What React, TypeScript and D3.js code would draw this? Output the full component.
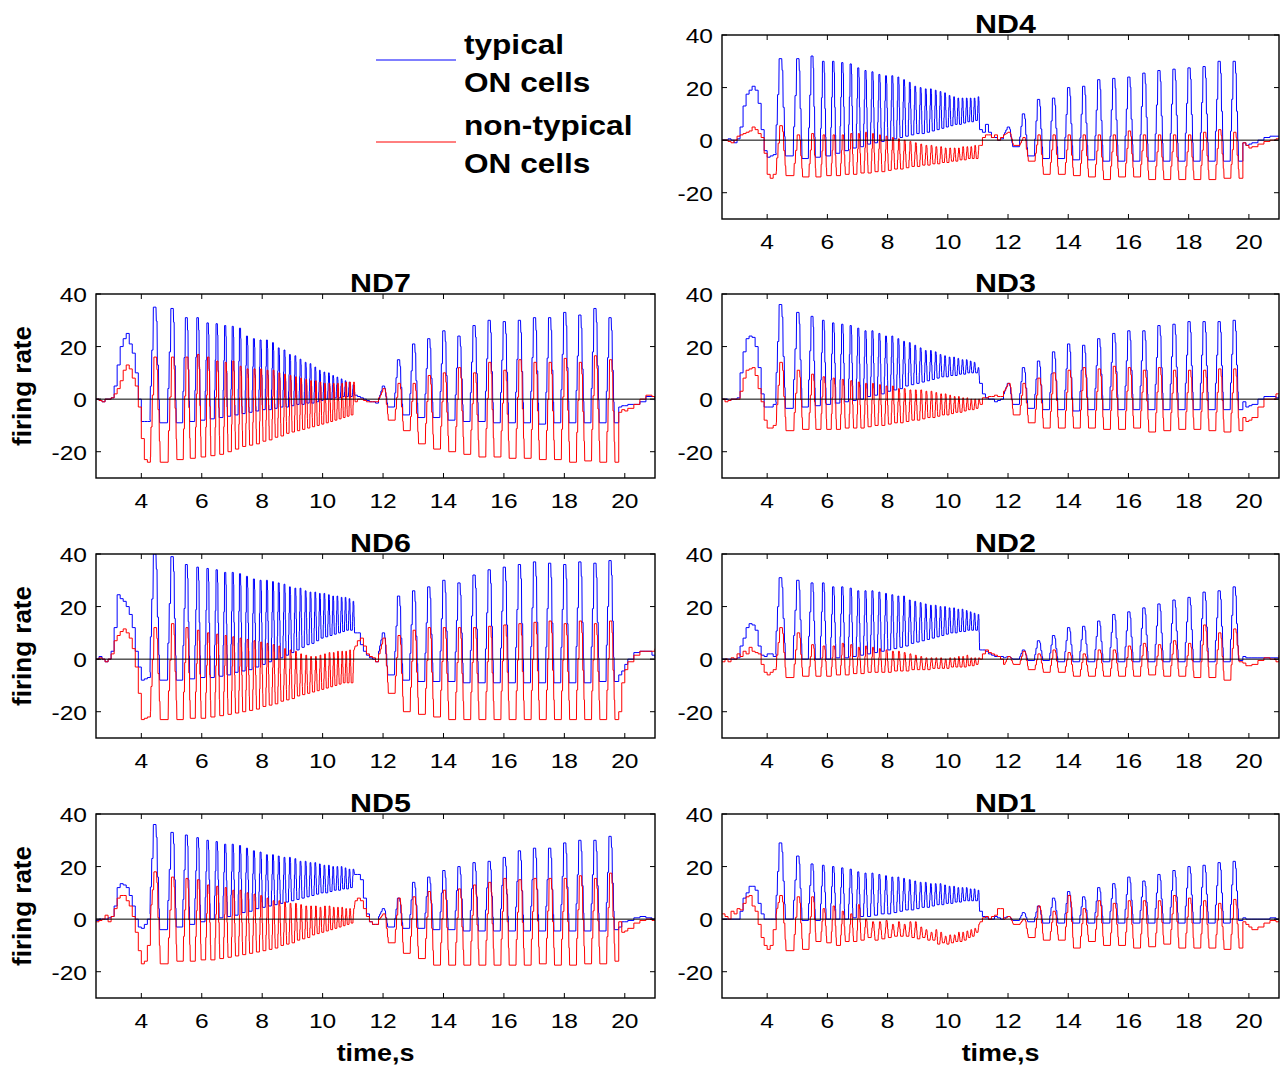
import React from "react";
import * as d3 from "d3";

// ---------- shared time bases (s) ----------
const PRE_T = [2.5, 2.6, 2.7, 2.8, 2.9, 3.0, 3.1, 3.2, 3.3, 3.4, 3.5, 3.6, 3.7, 3.8, 3.9, 4.0, 4.1, 4.2, 4.3];
const CHIRP_T = [4.45, 5.03, 5.5, 5.87, 6.2, 6.5, 6.78, 7.03, 7.27, 7.5, 7.73, 7.95, 8.16, 8.36, 8.55, 8.74, 8.92, 9.1, 9.27, 9.44, 9.6, 9.76, 9.91, 10.06, 10.21, 10.35, 10.49, 10.63, 10.76, 10.89, 11.02];
const GAP_T = [11.15, 11.25, 11.35, 11.45, 11.55, 11.65, 11.75, 11.85];
const AM_T = [12.02, 12.52, 13.02, 13.52, 14.02, 14.52, 15.02, 15.52, 16.02, 16.52, 17.02, 17.52, 18.02, 18.52, 19.02, 19.52];
const POST_T = [19.8, 19.9, 20.0, 20.1, 20.3, 20.5, 20.7, 20.9, 21.0];

const X_TICKS = [4, 6, 8, 10, 12, 14, 16, 18, 20];
const Y_TICKS = [-20, 0, 20, 40];
const X_DOMAIN = [2.5, 21];
const Y_DOMAIN = [-30, 40];

// ---------- ND4 ----------
const nd4TypPre = [0, 0, 0.5, 0, -1, 0.5, 5, 13, 17.5, 19, 20.5, 19, 14, 4, -4, -6.5, -6, -5.5, -5];
const nd4TypChirpPk = [31, 31, 32, 30, 30, 29.5, 29, 27.5, 26.5, 26, 25, 24.5, 24.5, 24, 23, 22, 20.5, 20, 19.5, 19.5, 19, 18.5, 18, 17, 16.5, 16, 16, 16, 16, 16, 16.5];
const nd4TypChirpTr = [-6, -7, -6.5, -6, -5, -4, -3, -2.5, -1.5, -1, -0.5, 0, 0.5, 1, 1.5, 2, 2.5, 2.5, 3, 3.5, 4, 4.5, 5, 5.5, 6, 6, 6.5, 7, 7, 7.5, 4];
const nd4TypGap = [3, 6, 3, 1, 1, 0, 0.5, 2];
const nd4TypAmPk = [5, 10, 15.5, 16, 20, 20.5, 23, 23.5, 24, 25.5, 26.5, 27, 27.5, 28, 30, 30];
const nd4TypAmTr = [-2.5, -6, -7, -7, -7.5, -7.5, -8, -8, -8, -8, -8, -8, -8, -8, -8, -8];
const nd4TypPost = [-1, -2, -1.5, -1, 0, 1, 1.5, 1.5, 1.5];
const nd4NonPre = [0, 0, -0.5, -1, 0, 1.5, 2, 2.5, 3, 3.5, 5, 4, 2.5, 1, -5, -13, -14.5, -13, -12];
const nd4NonChirpPk = [5.5, 2, 2.5, 2, 2, 2, 2.5, 2.5, 3, 2.5, 2, 1.5, 1, 0.5, 0, -0.5, -1, -1.5, -2, -2, -2.5, -2.5, -3, -3, -3, -3, -2.5, -2.5, -2.5, -2, -2];
const nd4NonChirpTr = [-13.5, -14, -14, -13.5, -13.5, -13, -13, -12.5, -12.5, -12, -12, -11.5, -11, -11, -10.5, -10, -10, -9.5, -9.5, -9, -9, -8.5, -8.5, -8, -8, -7.5, -7.5, -7, -7, -7, -2];
const nd4NonGap = [1, 2, 2, 1, 2, 0, 1, 2];
const nd4NonAmPk = [3, 1, 2, 2, 2, 2, 2, 2, 3.5, 2, 2, 2, 2, 3, 4, 3];
const nd4NonAmTr = [-2, -8, -13, -13, -13.5, -14, -15, -14, -14, -15, -15, -15, -15, -15, -14.5, -14.5];
const nd4NonPost = [-1, -2, -3, -2.5, -1.5, -0.5, 0, 0.5, 1];

// ---------- ND7 ----------
const nd7TypPre = [0, -0.5, -1, 0, 0, 0.5, 5, 13, 20, 23, 25, 21, 17.5, 10, 0, -8.5, -8.5, -8.5, -8];
const nd7TypChirpPk = [35, 34.5, 31, 31, 29, 28.7, 28, 27.7, 27, 24, 23, 22.5, 22.5, 21.5, 19.5, 18.7, 17, 16.5, 15.2, 14, 13.5, 12.2, 11, 10.3, 10, 9, 8.4, 7.7, 7, 6.5, 5.5];
const nd7TypChirpTr = [-9, -9, -8.5, -8, -7.5, -7, -6.5, -6, -5.5, -5, -4.5, -4, -4, -3.5, -3, -3, -2.5, -2, -2, -1.5, -1.5, -1, -0.5, 0, 0, 0.5, 0.5, 1, 1, 1, 1.5];
const nd7TypGap = [1, 0.5, 0, -0.5, -1, -1, -1.5, 0];
const nd7TypAmPk = [5, 15, 21, 23, 26, 24, 28, 30, 29.5, 30, 31, 31, 33, 32, 34.5, 31];
const nd7TypAmTr = [-3, -6, -7, -7, -8, -8.5, -8.5, -9, -9, -9, -9.5, -9, -9, -9, -9, -9];
const nd7TypPost = [-3, -2.5, -2.5, -2, -2, -1, 1, 1, -0.5];
const nd7NonPre = [0, -0.5, -1, 0, 0, 0.5, 2, 4, 7, 11, 13, 11.5, 8, 5, -3, -15, -23, -24, -22];
const nd7NonChirpPk = [16, 16, 16, 17, 16, 14.5, 14, 14.5, 12.5, 11.5, 11.5, 11.5, 11, 11, 10, 9.5, 9, 8.5, 8, 7.5, 7, 7, 6.5, 6, 6, 6, 6, 6, 6.5, 6.5, 6.5];
const nd7NonChirpTr = [-24, -23, -22.5, -22, -21.5, -21, -20, -19, -18, -17.5, -17, -16, -15.5, -14.5, -14, -13, -12.5, -12, -11.5, -11, -10.5, -10, -9.5, -9, -8.5, -8, -7.5, -7, -6.5, -6, -1];
const nd7NonGap = [0, 0, -0.5, -1, -1, -1, -1, 0.5];
const nd7NonAmPk = [4, 6, 6, 9, 10, 12, 10, 14, 11, 15, 14, 14, 15.5, 14, 16.5, 15];
const nd7NonAmTr = [-8, -12, -17, -19, -20, -21, -22, -22, -22.5, -22.5, -23, -23, -24, -23.5, -24, -24];
const nd7NonPost = [-5, -4, -4.5, -3.5, -2, 0, 1.5, 1, 0];

// ---------- ND3 ----------
const nd3TypPre = [0, 0, -0.5, 0, 0, 0.5, 10, 18, 23, 24, 23.5, 20, 12, 2, -3, -3, -3, -2, -1];
const nd3TypChirpPk = [36, 33, 31.5, 30, 29, 28.5, 28, 27, 26, 26, 25, 24, 24, 23, 22, 21.5, 20.5, 19.5, 18.5, 18.5, 18, 17, 16.5, 16, 16, 15.5, 15, 15, 14.5, 14, 12];
const nd3TypChirpTr = [-3.5, -3, -2.5, -2, -1.5, -1, -0.5, 0, 1, 1.5, 2, 3, 3.5, 4, 5, 5.5, 6, 6.5, 7, 7.5, 8, 8.5, 8.5, 9, 9, 9.5, 9.5, 10, 10, 10, 6];
const nd3TypGap = [2, 0.5, 0, 0, -1, -0.5, 0, 2];
const nd3TypAmPk = [6, 12, 14.5, 18, 21, 20.5, 23, 25, 26, 26, 28, 28.5, 29.5, 29.5, 29.5, 30];
const nd3TypAmTr = [-2, -3.5, -4, -4, -4.5, -4, -4, -4, -4, -4, -4, -4, -4, -4, -4, -4];
const nd3TypPost = [-1, -3, -2.5, -2, 0, 1, 1, 0.5, 1.5];
const nd3NonPre = [0, -1, -0.5, 0, 0, 0, 3, 8, 11, 11.5, 12, 9, 4, -1, -8, -11, -11, -10, -9];
const nd3NonChirpPk = [14, 11, 9.5, 8.5, 8, 7.5, 7, 6.5, 6, 6, 5.5, 5, 5, 4, 4, 3.5, 3.5, 3.5, 3, 3, 2.5, 2, 2, 1.5, 1, 1, 0.5, 0.5, 0, 0, 0];
const nd3NonChirpTr = [-12, -11.5, -11.5, -11.5, -11.5, -11, -11, -11, -10.5, -10, -10, -9.5, -9, -9, -8.5, -8, -8, -7.5, -7, -7, -6.5, -6, -6, -5.5, -5, -5, -4.5, -4, -4, -3.5, -2];
const nd3NonGap = [0.5, 0.5, 1, 1, 1.5, 1, 1, 3];
const nd3NonAmPk = [6, 6, 8, 10, 11, 12, 11.5, 12.5, 12, 11, 12, 11, 11, 11, 11.5, 11.5];
const nd3NonAmTr = [-6, -9, -11, -11, -11, -11, -11.5, -11.5, -11, -12.5, -12, -11.5, -11.5, -12, -12.5, -12];
const nd3NonPost = [-7, -8.5, -8, -7, -3, 0, 0, 2, 2];

// ---------- ND6 ----------
const nd6TypPre = [0, 1, 0, -1, 0, 3, 12, 24.5, 23, 22, 20, 17, 12, 3, -3, -8, -7.5, -7, -5];
const nd6TypChirpPk = [40, 39, 36, 35, 34.5, 34, 33, 33, 32.5, 31.5, 30.5, 30, 30, 29.5, 29, 28.5, 27.5, 27, 27, 26, 25.5, 25.5, 25, 25, 24.5, 24, 24, 23.5, 23.5, 23, 22];
const nd6TypChirpTr = [-8, -8, -7.5, -7, -7, -6.5, -6, -5, -4.5, -4, -3, -2, -1, 0, 0.5, 1.5, 2.5, 3.5, 4.5, 5.5, 6, 7, 8, 8.5, 9, 9.5, 10, 10.5, 11, 11, 10];
const nd6TypGap = [10, 5.5, 3, 1.5, 0.5, 0, -1, 3];
const nd6TypAmPk = [10, 24, 26, 27.5, 30, 29, 32, 34, 35, 36, 37, 36.5, 36, 37, 36.5, 37.5];
const nd6TypAmTr = [-6, -8, -8.5, -8.5, -8.5, -9, -9, -9, -9, -9, -9, -9, -9, -9, -8.5, -8.5];
const nd6TypPost = [-6, -4.5, -2, 0, 2.5, 3, 3, 1.5, 0.5];
const nd6NonPre = [0, 0.5, 0, -1, 0, 2, 7, 9, 10.5, 11.5, 10, 8, 4, -3, -13, -23, -22.5, -22, -20];
const nd6NonChirpPk = [12, 13.5, 12, 11, 10, 9.5, 9, 8.5, 8, 7.5, 7, 6.5, 6, 5.5, 5, 4, 3.5, 3, 2, 1.5, 1, 1, 1.5, 2, 2.5, 2.5, 3, 3, 3, 3.5, 3.5];
const nd6NonChirpTr = [-23, -23, -22.5, -22.5, -22, -21.5, -21, -20.5, -20, -19.5, -19, -18, -17.5, -17, -16, -15.5, -15, -14, -13.5, -13, -12.5, -12, -11.5, -11, -10.5, -10, -9.5, -9, -9, -9, 5];
const nd6NonGap = [7, 8, 5, 2, 1, 0.5, -1, 2];
const nd6NonAmPk = [8, 9, 11, 12, 12, 12, 12, 12.5, 13, 13.5, 14, 14.5, 13.5, 14.5, 13.5, 14.5];
const nd6NonAmTr = [-13, -20, -21, -22, -23, -23, -23, -23, -23, -23, -23, -23, -23, -23, -23, -23];
const nd6NonPost = [-20, -9, -4, -1, 1.5, 3, 3, 3, 4];

// ---------- ND2 ----------
const nd2TypPre = [0, 0, 0, 0, 0, 0.5, 5, 8, 12, 13.5, 13, 11, 5, 1.5, 1, 2, 2, 1, 2];
const nd2TypChirpPk = [31, 30, 29, 29, 27.5, 27.5, 27, 26, 26, 26, 25.5, 25, 24.5, 24, 24, 22.5, 22, 21.5, 21, 20.5, 20.5, 20, 20, 19.5, 19.5, 19, 19, 18.5, 18, 17.5, 17];
const nd2TypChirpTr = [0, 0, 0, 0, 0.5, 0.5, 1, 1.5, 2, 2.5, 3, 3.5, 4, 4.5, 5, 6, 6.5, 7, 7.5, 8, 8.5, 9, 9.5, 10, 10, 10.5, 10.5, 11, 11, 11, 3.5];
const nd2TypGap = [3.5, 3, 2, 1.5, 1, 1, 1, 0.5];
const nd2TypAmPk = [1, 3.5, 7, 9, 12, 12.5, 14.5, 17, 18, 19.5, 21, 22.5, 23.5, 25.5, 26, 27.5];
const nd2TypAmTr = [0, -0.5, -0.5, -1, -1, -1, -1, -1, -1, -1, -1, -1, -1, -1, -1, -0.5];
const nd2TypPost = [1, 0.5, 0.5, 0.5, 0.5, 0.5, 0.5, 0.5, 0.5];
const nd2NonPre = [-1, 0, -1, 0.5, 0, 2, 1, 3, 2, 4.5, 3, 2.5, 2, -2, -5, -6, -5, -4, -3];
const nd2NonChirpPk = [12, 10, 5.5, 5, 5, 6, 5.5, 4.5, 5, 4.5, 4, 3.5, 3, 3, 2.5, 2, 1.5, 1, 0.5, 0.5, 0.5, 0.5, 0, 0.5, 0.5, 1, 1, 1.5, 0.5, 0.5, 0.5];
const nd2NonChirpTr = [-7, -6.5, -6.5, -6.5, -6, -6, -5.5, -5.5, -5, -5, -5, -5, -4.5, -4.5, -4.5, -4, -4, -4, -4, -3.5, -3.5, -3.5, -3.5, -3, -3, -3, -3, -2.5, -2.5, -2, 0];
const nd2NonGap = [2, 3.5, 2.5, 2, 1.5, 1, 0, -2];
const nd2NonAmPk = [1, 3, 2, 3.5, 2.5, 2, 3.5, 3.5, 5, 6, 5.5, 7, 6, 13, 10, 11.5];
const nd2NonAmTr = [-2, -4, -5, -5, -6.5, -6.5, -6.5, -6.5, -6.5, -6, -6.5, -6.5, -7, -7, -8, -1];
const nd2NonPost = [-1.5, -2.5, -2.5, -2, -0.5, 0.5, 0, -1, 1.5];

// ---------- ND5 ----------
const nd5TypPre = [-0.5, 0, 0, 0, 0.5, 1, 5, 12, 13.5, 13, 12, 9, 5, 0, -3, -3.5, -2, 0, 2];
const nd5TypChirpPk = [36, 33, 32, 31, 30, 29.5, 28.5, 28.5, 28, 27, 26, 25.5, 24.5, 24.5, 24, 23.5, 23.5, 23, 22, 22, 21.5, 21.5, 21, 20.5, 20.5, 20, 20, 20, 19.5, 19, 19];
const nd5TypChirpTr = [-4, -3, -2, -1, 0, 0.5, 1, 1.5, 2.5, 3, 4, 4.5, 5, 5.5, 6, 6.5, 7, 7.5, 8, 8.5, 9, 9.5, 10, 10, 10.5, 11, 11, 11.5, 11.5, 12, 17];
const nd5TypGap = [17, 15, 8, 2, -1, -2, -2, 1];
const nd5TypAmPk = [4, 8, 14, 16, 18.5, 20, 21.5, 22, 23.5, 26, 27, 27, 29, 30, 30, 31.5];
const nd5TypAmTr = [-3, -3.5, -3.5, -4, -4, -4.5, -4.5, -4.5, -4.5, -4.5, -4.5, -4.5, -4.5, -4.5, -4.5, -4];
const nd5TypPost = [-3, -1, -1, -0.5, 0.5, 1, 0.5, 0, 0];
const nd5NonPre = [-1, -0.5, 0, 1.5, -1, 1, 4, 8, 9, 9, 7, 5, 1, -5, -12, -17, -16, -10, 0];
const nd5NonChirpPk = [18, 16, 15.5, 15, 13, 12.5, 12, 11, 11, 10, 9.5, 9, 8, 7, 7, 6.5, 6, 6, 5.5, 5, 5, 5, 4.5, 5, 5, 4.5, 4.5, 4.5, 4, 4, 4];
const nd5NonChirpTr = [-17, -16, -16, -15.5, -15.5, -15, -14.5, -14, -13.5, -13, -12.5, -12, -11.5, -11, -10, -9.5, -9, -8, -7.5, -7, -6, -5.5, -5, -4.5, -4, -3.5, -3, -2.5, -2, -1.5, 7];
const nd5NonGap = [8, 7, 4, 1, -1, -2, -2, 0];
const nd5NonAmPk = [2, 8, 8.5, 10.5, 11, 11.5, 13, 14, 15.5, 15, 15.5, 15.5, 15.5, 16.5, 15.5, 17.5];
const nd5NonAmTr = [-9, -13, -15, -17.5, -17.5, -17.5, -17.5, -17.5, -17.5, -17.5, -17, -17.5, -17.5, -17, -17, -16];
const nd5NonPost = [-1, -5, -4.5, -3.5, -1.5, -0.5, 0, -0.5, 0.5];

// ---------- ND1 ----------
const nd1TypPre = [0, 0, 0, 0, 0, 0, 3, 8, 10, 12.5, 12.5, 11, 6, 2, 0, 0, 0, 0, 0.5];
const nd1TypChirpPk = [29, 24, 21, 20.5, 20, 19.5, 19, 18, 17.5, 17.5, 17, 16.5, 16, 16, 15.5, 15, 14.5, 14, 14, 13.5, 13.5, 13.5, 13, 12.5, 12.5, 12, 12, 12, 11.5, 11.5, 11];
const nd1TypChirpTr = [0, -0.5, -0.5, 0, 0, 0, 0.5, 1, 1, 1.5, 2, 2, 2.5, 3, 3.5, 3.5, 4, 4.5, 4.5, 5, 5.5, 5.5, 6, 6, 6.5, 6.5, 7, 7, 7, 7, 3];
const nd1TypGap = [1, 0.5, 0, 0, 1, 0.5, 0, 0.5];
const nd1TypAmPk = [1, 2.5, 5, 8, 10.5, 8.5, 12, 13.5, 16, 14.5, 17, 18.5, 20, 20.5, 21.5, 22];
const nd1TypAmTr = [-0.5, -1, -1.5, -1.5, -1.5, -1.5, -1.5, -1.5, -1.5, -1.5, -1.5, -1.5, -1.5, -1.5, -1.5, -0.5];
const nd1TypPost = [0.5, 0, 0, 0, 0, 0, 0.5, 0, 0];
const nd1NonPre = [2, 1, 0, 3, 2, 4, 3.5, 6, 8.5, 9, 5, 3, -2, -7, -10, -11.5, -10, -4, 2];
const nd1NonChirpPk = [9, 8.5, 8.5, 4, 5, 3, 2, 5.5, 0, -1, -1, -0.5, -2, -1, -2, -1, -1, -3, -4, -5, -4, -5, -6.5, -6, -6, -5, -5, -4.5, -4, -3.5, -2];
const nd1NonChirpTr = [-12, -11.5, -8.5, -9, -10, -8.5, -8.5, -8, -7, -8, -7.5, -7, -6.5, -6.5, -6.5, -7, -7.5, -7, -8, -8, -9.5, -9, -9.5, -9, -8.5, -8.5, -8, -7, -6.5, -5, -1];
const nd1NonGap = [0.5, 1, 0, 1, 1.5, 4, 4, 0];
const nd1NonAmPk = [1, 0, 5, 3, 9, 4, 7, 6, 7, 7, 7, 9, 8, 7, 6, 7.5];
const nd1NonAmTr = [-2, -7, -8, -8, -11, -8.5, -10, -10, -11, -10.5, -9.5, -11, -11, -11, -11.5, -11];
const nd1NonPost = [-1, -2, -3, -4, -3, -1.5, -0.5, -1, 0.5];

type Trace = {
  pre: number[]; chirpPk: number[]; chirpTr: number[]; gap: number[];
  amPk: number[]; amTr: number[]; post: number[];
};
const mk = (pre: number[], chirpPk: number[], chirpTr: number[], gap: number[], amPk: number[], amTr: number[], post: number[]): Trace =>
  ({ pre, chirpPk, chirpTr, gap, amPk, amTr, post });

const PANELS = [
  { title: "ND4", row: 0, col: 1,
    typ: mk(nd4TypPre, nd4TypChirpPk, nd4TypChirpTr, nd4TypGap, nd4TypAmPk, nd4TypAmTr, nd4TypPost),
    non: mk(nd4NonPre, nd4NonChirpPk, nd4NonChirpTr, nd4NonGap, nd4NonAmPk, nd4NonAmTr, nd4NonPost) },
  { title: "ND7", row: 1, col: 0,
    typ: mk(nd7TypPre, nd7TypChirpPk, nd7TypChirpTr, nd7TypGap, nd7TypAmPk, nd7TypAmTr, nd7TypPost),
    non: mk(nd7NonPre, nd7NonChirpPk, nd7NonChirpTr, nd7NonGap, nd7NonAmPk, nd7NonAmTr, nd7NonPost) },
  { title: "ND3", row: 1, col: 1,
    typ: mk(nd3TypPre, nd3TypChirpPk, nd3TypChirpTr, nd3TypGap, nd3TypAmPk, nd3TypAmTr, nd3TypPost),
    non: mk(nd3NonPre, nd3NonChirpPk, nd3NonChirpTr, nd3NonGap, nd3NonAmPk, nd3NonAmTr, nd3NonPost) },
  { title: "ND6", row: 2, col: 0,
    typ: mk(nd6TypPre, nd6TypChirpPk, nd6TypChirpTr, nd6TypGap, nd6TypAmPk, nd6TypAmTr, nd6TypPost),
    non: mk(nd6NonPre, nd6NonChirpPk, nd6NonChirpTr, nd6NonGap, nd6NonAmPk, nd6NonAmTr, nd6NonPost) },
  { title: "ND2", row: 2, col: 1,
    typ: mk(nd2TypPre, nd2TypChirpPk, nd2TypChirpTr, nd2TypGap, nd2TypAmPk, nd2TypAmTr, nd2TypPost),
    non: mk(nd2NonPre, nd2NonChirpPk, nd2NonChirpTr, nd2NonGap, nd2NonAmPk, nd2NonAmTr, nd2NonPost) },
  { title: "ND5", row: 3, col: 0,
    typ: mk(nd5TypPre, nd5TypChirpPk, nd5TypChirpTr, nd5TypGap, nd5TypAmPk, nd5TypAmTr, nd5TypPost),
    non: mk(nd5NonPre, nd5NonChirpPk, nd5NonChirpTr, nd5NonGap, nd5NonAmPk, nd5NonAmTr, nd5NonPost) },
  { title: "ND1", row: 3, col: 1,
    typ: mk(nd1TypPre, nd1TypChirpPk, nd1TypChirpTr, nd1TypGap, nd1TypAmPk, nd1TypAmTr, nd1TypPost),
    non: mk(nd1NonPre, nd1NonChirpPk, nd1NonChirpTr, nd1NonGap, nd1NonAmPk, nd1NonAmTr, nd1NonPost) },
];

// ---------- geometry / style ----------
const COL_X: [number, number][] = [[96, 655], [722, 1279]];
const ROW_Y = [35, 294, 554, 814];
const PLOT_H = 184;
const FONT = "'Liberation Sans', Arial, Helvetica, sans-serif";
const SX = 1.17;
const BLUE = "#0000ff";
const RED = "#ff0000";

// Build a binned-looking (stepped) polyline from per-cycle peak/trough values
function tracePoints(tr: Trace, lag: number): [number, number][] {
  const pts: [number, number][] = [];
  let cur = tr.pre[0];
  const stepSeg = (ts: number[], vs: number[]) => {
    ts.forEach((t, i) => {
      const v = vs[i] ?? vs[vs.length - 1];
      if (pts.length) pts.push([t, cur]);
      pts.push([t, v]);
      cur = v;
    });
  };
  const cycles = (ts: number[], pk: number[], tq: number[]) => {
    const n = ts.length;
    for (let i = 0; i < n; i++) {
      const t = ts[i] + lag;
      const pin = i > 0 ? ts[i] - ts[i - 1] : ts[1] - ts[0];
      const pout = i < n - 1 ? ts[i + 1] - ts[i] : pin;
      const p = pk[i] ?? pk[pk.length - 1];
      const q = tq[i] ?? tq[tq.length - 1];
      const d0 = p - cur;
      const d1 = p - q;
      pts.push(
        [t - 0.28 * pin, cur],
        [t - 0.26 * pin, cur + 0.3 * d0],
        [t - 0.2 * pin, cur + 0.3 * d0],
        [t - 0.18 * pin, cur + 0.62 * d0],
        [t - 0.11 * pin, cur + 0.62 * d0],
        [t - 0.09 * pin, p],
        [t + 0.06 * pout, p],
        [t + 0.08 * pout, p - 0.12 * d1],
        [t + 0.12 * pout, p - 0.12 * d1],
        [t + 0.14 * pout, p - 0.5 * d1],
        [t + 0.2 * pout, p - 0.5 * d1],
        [t + 0.22 * pout, p - 0.8 * d1],
        [t + 0.25 * pout, p - 0.8 * d1],
        [t + 0.27 * pout, q]
      );
      cur = q;
    }
  };
  stepSeg(PRE_T, tr.pre);
  cycles(CHIRP_T, tr.chirpPk, tr.chirpTr);
  stepSeg(GAP_T, tr.gap);
  cycles(AM_T, tr.amPk, tr.amTr);
  stepSeg(POST_T, tr.post);
  return pts;
}

function SText(props: { x: number; y: number; size: number; bold?: boolean; anchor?: string; children: React.ReactNode }) {
  const { x, y, size, bold, anchor, children } = props;
  return (
    <text
      transform={`translate(${x},${y}) scale(${SX},1)`}
      fontSize={size}
      fontWeight={bold ? "bold" : "normal"}
      textAnchor={anchor || "start"}
      fontFamily={FONT}
      fill="#000"
    >
      {children}
    </text>
  );
}

function Panel({ p }: { p: (typeof PANELS)[number] }) {
  const [x0, x1] = COL_X[p.col];
  const top = ROW_Y[p.row];
  const bottom = top + PLOT_H;
  const x = d3.scaleLinear().domain(X_DOMAIN).range([x0, x1]);
  const y = d3.scaleLinear().domain(Y_DOMAIN).range([bottom, top]);
  const line = d3.line<[number, number]>().x((d) => x(d[0])).y((d) => y(d[1]));
  const clipId = `clip-${p.title}`;
  const cx = (x0 + x1) / 2;
  return (
    <g>
      <defs>
        <clipPath id={clipId}>
          <rect x={x0} y={top} width={x1 - x0} height={PLOT_H} />
        </clipPath>
      </defs>
      <g clipPath={`url(#${clipId})`}>
        <path d={line(tracePoints(p.typ, 0)) || ""} fill="none" stroke={BLUE} strokeWidth={1} />
        <path d={line(tracePoints(p.non, 0.02)) || ""} fill="none" stroke={RED} strokeWidth={1} />
        <line x1={x0} x2={x1} y1={y(0)} y2={y(0)} stroke="#000" strokeWidth={1} />
      </g>
      <rect x={x0} y={top} width={x1 - x0} height={PLOT_H} fill="none" stroke="#000" strokeWidth={1.4} />
      {X_TICKS.map((t) => (
        <g key={`xt${t}`}>
          <line x1={x(t)} x2={x(t)} y1={bottom} y2={bottom - 5} stroke="#000" strokeWidth={1} />
          <line x1={x(t)} x2={x(t)} y1={top} y2={top + 5} stroke="#000" strokeWidth={1} />
          <SText x={x(t)} y={bottom + 30} size={21} anchor="middle">{t}</SText>
        </g>
      ))}
      {Y_TICKS.map((v) => (
        <g key={`yt${v}`}>
          <line x1={x0} x2={x0 + 5} y1={y(v)} y2={y(v)} stroke="#000" strokeWidth={1} />
          <line x1={x1} x2={x1 - 5} y1={y(v)} y2={y(v)} stroke="#000" strokeWidth={1} />
          <SText x={x0 - 9} y={y(v) + 8} size={21} anchor="end">{v}</SText>
        </g>
      ))}
      <SText x={cx + 5} y={top - 2} size={26} bold anchor="middle">{p.title}</SText>
      {p.col === 0 && (
        <text
          transform={`translate(${31},${(top + bottom) / 2}) rotate(-90)`}
          fontSize={26}
          fontWeight="bold"
          textAnchor="middle"
          fontFamily={FONT}
        >
          firing rate
        </text>
      )}
      {p.row === 3 && (
        <SText x={cx} y={1061} size={23} bold anchor="middle">time,s</SText>
      )}
    </g>
  );
}

export default function App() {
  return (
    <svg
      width={1284}
      height={1070}
      style={{ position: "absolute", left: 0, top: 0, background: "#fff" }}
      xmlns="http://www.w3.org/2000/svg"
    >
      <rect x={0} y={0} width={1284} height={1070} fill="#fff" />
      {/* legend */}
      <line x1={376} x2={456} y1={60} y2={60} stroke={BLUE} strokeWidth={1} />
      <line x1={376} x2={456} y1={142} y2={142} stroke={RED} strokeWidth={1} />
      <SText x={464} y={54} size={27} bold>typical</SText>
      <SText x={464} y={92} size={27} bold>ON cells</SText>
      <SText x={464} y={135} size={27} bold>non-typical</SText>
      <SText x={464} y={173} size={27} bold>ON cells</SText>
      {PANELS.map((p) => (
        <Panel key={p.title} p={p} />
      ))}
    </svg>
  );
}
